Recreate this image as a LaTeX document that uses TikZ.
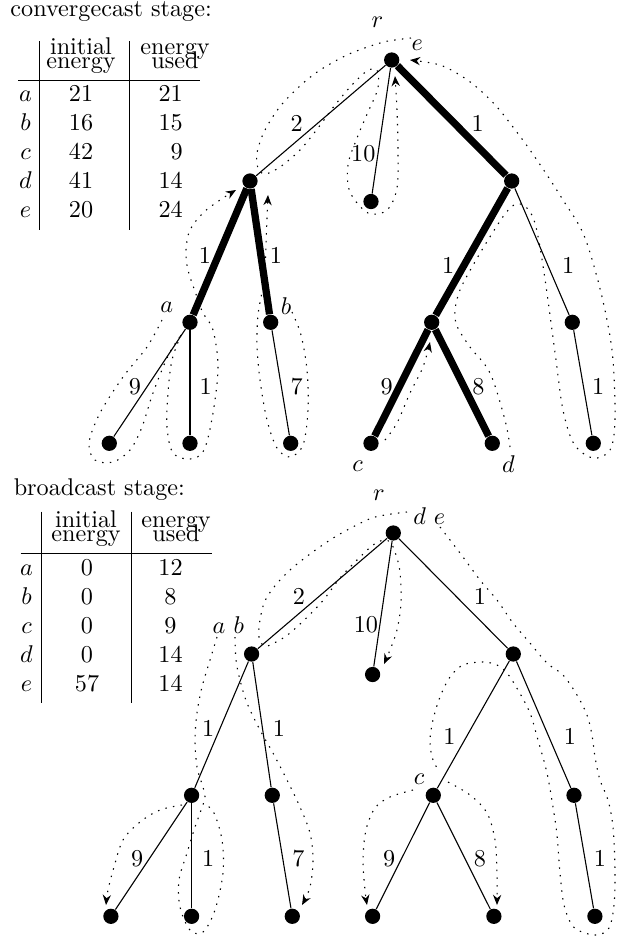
\documentclass[tikz,border=0pt]{standalone}
\usetikzlibrary{arrows.meta}
\begin{document}
\begin{tikzpicture}[x=0.4132pt, y=-0.4132pt]
\tikzset{
 vtx/.style={circle, fill=black, inner sep=0pt, minimum size=6.3pt},
 thinedge/.style={line width=0.45pt},
 thickedge/.style={line width=3pt},
 lbl/.style={inner sep=0pt},
 txt/.style={inner sep=0pt, anchor=base},
 txtr/.style={inner sep=0pt, anchor=base east},
 rulel/.style={line width=0.4pt},
 route/.style={line width=0.45pt, dash pattern=on 0.6pt off 2.6pt},
 routearr/.style={route, -{Stealth[length=4.2pt,width=3.4pt]}},
}
\useasboundingbox (0,0) rectangle (616,937);

% ================= TOP TABLE =================
\node[inner sep=0pt, anchor=base west] (ttitle) at (10,16.5) {convergecast stage:};
\node[txt] (th1a) at (81,54) {initial};
\node[txt] (th1b) at (81,68.7) {energy};
\node[txt] (th2a) at (175,54) {energy};
\node[txt] (th2b) at (175,68.7) {used};
\draw[rulel] (39.3,41) -- (39.3,230);
\draw[rulel] (129.3,41) -- (129.3,230);
\draw[rulel] (18.3,80.7) -- (200,80.7);
\node[txt] (tra) at (25.5,101.7) {$a$};
\node[txt] (trb) at (25.5,130.7) {$b$};
\node[txt] (trc) at (25.5,159.8) {$c$};
\node[txt] (trd) at (25.5,188.8) {$d$};
\node[txt] (tre) at (25.5,217.9) {$e$};
\node[txt] (tia) at (81,101.7) {21};
\node[txt] (tib) at (81,130.7) {16};
\node[txt] (tic) at (81,159.8) {42};
\node[txt] (tid) at (81,188.8) {41};
\node[txt] (tie) at (81,217.9) {20};
\node[txtr] (tua) at (183.3,101.7) {21};
\node[txtr] (tub) at (183.3,130.7) {15};
\node[txtr] (tuc) at (183.3,159.8) {9};
\node[txtr] (tud) at (183.3,188.8) {14};
\node[txtr] (tue) at (183.3,217.9) {24};

% ================= BOTTOM TABLE =================
\node[inner sep=0pt, anchor=base west] (btitle) at (13.3,495.5) {broadcast stage:};
\node[txt] (bh1a) at (86,527.3) {initial};
\node[txt] (bh1b) at (86,541.7) {energy};
\node[txt] (bh2a) at (176,527.3) {energy};
\node[txt] (bh2b) at (176,541.7) {used};
\draw[rulel] (41,511.7) -- (41,703);
\draw[rulel] (131.7,511.7) -- (131.7,703);
\draw[rulel] (20.7,553.3) -- (211.7,553.3);
\node[txt] (bra) at (26.5,575) {$a$};
\node[txt] (brb) at (26.5,604) {$b$};
\node[txt] (brc) at (26.5,633.1) {$c$};
\node[txt] (brd) at (26.5,662.1) {$d$};
\node[txt] (bre) at (26.5,691.2) {$e$};
\node[txt] (bia) at (87,575) {0};
\node[txt] (bib) at (87,604) {0};
\node[txt] (bic) at (87,633.1) {0};
\node[txt] (bid) at (87,662.1) {0};
\node[txt] (bie) at (87,691.2) {57};
\node[txt] (bua) at (170.5,575) {12};
\node[txt] (bub) at (170.5,604) {8};
\node[txt] (buc) at (170.5,633.1) {9};
\node[txt] (bud) at (170.5,662.1) {14};
\node[txt] (bue) at (170.5,691.2) {14};

% ================= TOP TREE =================
\node[vtx] (tR) at (391.7,60) {};
\node[vtx] (tL) at (250,181) {};
\node[vtx] (tM) at (371,201.5) {};
\node[vtx] (tRc) at (511.7,181) {};
\node[vtx] (tA) at (190,322.3) {};
\node[vtx] (tB) at (270.7,322.3) {};
\node[vtx] (tC) at (431.7,322.3) {};
\node[vtx] (tRi) at (572.3,322.3) {};
\node[vtx] (tLa1) at (109.3,443.3) {};
\node[vtx] (tLa2) at (190,443.3) {};
\node[vtx] (tLb) at (290.7,443.3) {};
\node[vtx] (tLc) at (371,443.3) {};
\node[vtx] (tLd) at (492.3,443.3) {};
\node[vtx] (tLr) at (593.3,443.3) {};

\draw[thinedge] (tR) -- (tL);
\draw[thinedge] (tR) -- (tM);
\draw[thickedge] (tR) -- (tRc);
\draw[thickedge] (tL) -- (tA);
\draw[thickedge] (tL) -- (tB);
\draw[thickedge] (tRc) -- (tC);
\draw[thinedge] (tRc) -- (tRi);
\draw[thinedge] (tA) -- (tLa1);
\draw[thinedge] (tA) -- (tLa2);
\draw[thinedge] (tB) -- (tLb);
\draw[thickedge] (tC) -- (tLc);
\draw[thickedge] (tC) -- (tLd);
\draw[thinedge] (tRi) -- (tLr);

\node[lbl] (tlr) at (377.5,22.5) {$r$};
\node[lbl] (tle) at (417.2,45.5) {$e$};
\node[lbl] (tla) at (166.7,307.2) {$a$};
\node[lbl] (tlb) at (286,306.3) {$b$};
\node[lbl] (tlc) at (357.5,466.3) {$c$};
\node[lbl] (tld) at (508.3,463.8) {$d$};

\node[lbl] (tw1) at (296.7,123.3) {2};
\node[lbl] (tw2) at (477.7,123.3) {1};
\node[lbl] (tw3) at (363.3,153.3) {10};
\node[lbl] (tw4) at (205,255) {1};
\node[lbl] (tw5) at (276,255) {1};
\node[lbl] (tw6) at (135,386.7) {9};
\node[lbl] (tw7) at (205.7,386.7) {1};
\node[lbl] (tw8) at (296.7,386.7) {7};
\node[lbl] (tw9) at (448.3,265) {1};
\node[lbl] (tw10) at (568.3,265) {1};
\node[lbl] (tw11) at (386.7,386.7) {9};
\node[lbl] (tw12) at (478.3,386.7) {8};
\node[lbl] (tw13) at (598.3,386.7) {1};

% routes (convergecast)
\draw[routearr] plot[smooth, tension=0.55] coordinates {(411,38) (395,40) (380,43) (347,55) (313,75) (283,103) (265,130) (257,153) (258,168) (265,174) (280,167) (300,150) (318,128) (335,105) (352,85) (367,71) (377,70) (378,88) (368,112) (357,138) (348,165) (350,192) (368,213) (387,210) (397,188) (398,150) (397,110) (395,76)};
\draw[route] plot[smooth, tension=0.55] coordinates {(162,320) (147,347) (123,377) (100,413) (89,443) (95,460) (113,462) (130,450) (142,427) (153,393) (168,356) (181,335)};
\draw[routearr] plot[smooth, tension=0.55] coordinates {(181,335) (172,360) (168,393) (167,427) (173,453) (190,459) (204,450) (213,413) (218,367) (213,330) (203,313) (197,297) (188,270) (186,250) (190,230) (203,213) (220,200) (236,190)};
\draw[routearr] plot[smooth, tension=0.55] coordinates {(292,312) (301,335) (307,370) (308,410) (303,445) (290,457) (277,448) (267,420) (260,380) (257,345) (258,315) (262,292) (265,270) (266,245) (267,218) (268,195)};
\draw[routearr] plot[smooth, tension=0.55] coordinates {(385,440) (397,423) (410,393) (423,367) (430,342)};
\draw[routearr] plot[smooth, tension=0.55] coordinates {(510,447) (505,420) (490,373) (470,347) (457,326) (455,310) (460,290) (472,267) (488,240) (505,214) (516,204) (526,207) (534,220) (540,247) (547,293) (556,360) (563,410) (574,444) (593,458) (610,450) (615,420) (613,360) (607,320) (597,277) (583,233) (563,200) (547,175) (530,150) (513,127) (497,107) (480,90) (463,77) (440,65) (410,60)};

% ================= BOTTOM TREE =================
\node[vtx] (bR) at (393.3,533) {};
\node[vtx] (bL) at (251.6,654) {};
\node[vtx] (bM) at (372.6,674.5) {};
\node[vtx] (bRc) at (513.3,654) {};
\node[vtx] (bA) at (191.6,795.3) {};
\node[vtx] (bB) at (272.3,795.3) {};
\node[vtx] (bC) at (433.3,795.3) {};
\node[vtx] (bRi) at (574,795.3) {};
\node[vtx] (bLa1) at (110.9,916.3) {};
\node[vtx] (bLa2) at (191.6,916.3) {};
\node[vtx] (bLb) at (292.3,916.3) {};
\node[vtx] (bLc) at (372.6,916.3) {};
\node[vtx] (bLd) at (493.9,916.3) {};
\node[vtx] (bLr) at (594.9,916.3) {};

\draw[thinedge] (bR) -- (bL);
\draw[thinedge] (bR) -- (bM);
\draw[thinedge] (bR) -- (bRc);
\draw[thinedge] (bL) -- (bA);
\draw[thinedge] (bL) -- (bB);
\draw[thinedge] (bRc) -- (bC);
\draw[thinedge] (bRc) -- (bRi);
\draw[thinedge] (bA) -- (bLa1);
\draw[thinedge] (bA) -- (bLa2);
\draw[thinedge] (bB) -- (bLb);
\draw[thinedge] (bC) -- (bLc);
\draw[thinedge] (bC) -- (bLd);
\draw[thinedge] (bRi) -- (bLr);

\node[lbl] (blr) at (379,495.5) {$r$};
\node[lbl] (blde) at (429.3,516) {$d$ $e$};
\node[lbl] (blab) at (228.3,625) {$a$ $b$};
\node[lbl] (blc) at (419.2,779.5) {$c$};

\node[lbl] (bw1) at (299,596) {2};
\node[lbl] (bw2) at (480,596) {1};
\node[lbl] (bw3) at (366,625) {10};
\node[lbl] (bw4) at (208.3,728.3) {1};
\node[lbl] (bw5) at (279,728.3) {1};
\node[lbl] (bw6) at (137.3,858.3) {9};
\node[lbl] (bw7) at (208.3,858.3) {1};
\node[lbl] (bw8) at (298.3,858.3) {7};
\node[lbl] (bw9) at (449.3,736.7) {1};
\node[lbl] (bw10) at (570,736.7) {1};
\node[lbl] (bw11) at (389.3,858.3) {9};
\node[lbl] (bw12) at (480,858.3) {8};
\node[lbl] (bw13) at (600,858.3) {1};

% routes (broadcast)
\draw[routearr] plot[smooth, tension=0.55] coordinates {(407,512) (385,515) (367,520) (330,540) (290,570) (267,597) (260,620) (259,637) (264,646) (272,644) (290,633) (320,604) (340,578) (357,560) (373,545) (384,540) (391,543) (396,555) (400,572) (401,603) (397,630) (390,650) (384,664)};
\draw[route] plot[smooth, tension=0.55] coordinates {(440,527) (460,553) (480,580) (497,600) (513,623) (530,643) (547,663) (563,675) (577,695) (587,715) (592,735) (595,757) (600,780) (608,800) (613,827) (615,870) (614,905) (609,928) (597,935) (582,932) (572,925) (564,905) (560,873) (557,835) (553,807) (547,773) (538,740) (530,713) (518,690) (507,673) (497,665) (483,662) (463,665) (450,677) (440,697) (433,720) (430,740) (432,757) (437,768)};
\draw[route] plot[smooth, tension=0.55] coordinates {(217,637) (210,660) (202,687) (197,713) (195,740) (197,767) (202,784) (205,797) (200,813) (195,827) (187,853) (179,880) (180,907) (190,930) (203,932) (215,910) (223,873) (222,840) (214,813) (204,803)};
\draw[routearr] plot[smooth, tension=0.55] coordinates {(182,805) (160,810) (140,822) (123,840) (114,867) (108,890) (106,905)};
\draw[routearr] plot[smooth, tension=0.55] coordinates {(235,637) (236,660) (240,680) (247,703) (260,730) (273,753) (287,780) (300,807) (310,833) (313,860) (310,887) (302,905)};
\draw[routearr] plot[smooth, tension=0.55] coordinates {(413,790) (390,797) (375,808) (366,830) (363,860) (365,890) (367,905)};
\draw[routearr] plot[smooth, tension=0.55] coordinates {(448,782) (470,795) (487,813) (495,840) (497,873) (497,905)};
\end{tikzpicture}
\end{document}
